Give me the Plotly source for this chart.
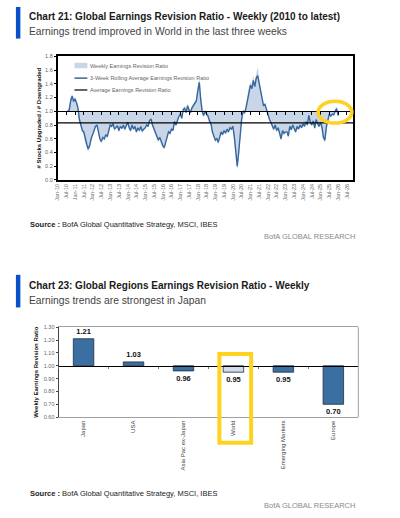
import pandas as pd
import plotly.graph_objects as go

# Chart 21 - global earnings revision ratio (Aug-2010 .. Jan-2026)
START = "2010-08-01"
WEEKLY = [
    1.01, 1.05, 1.20, 1.24, 1.16,                                            # 2010
    1.20, 1.10, 1.02, 0.85, 0.78, 0.70, 0.66, 0.55, 0.48, 0.42, 0.49, 0.62,  # 2011
    0.70, 0.74, 0.80, 0.81, 0.68, 0.58, 0.54, 0.63, 0.58, 0.68, 0.61, 0.74,  # 2012
    0.82, 0.77, 0.84, 0.72, 0.77, 0.81, 0.70, 0.79, 0.74, 0.82, 0.72, 0.80,  # 2013
    0.86, 0.74, 0.70, 0.82, 0.73, 0.80, 0.68, 0.77, 0.70, 0.80, 0.69, 0.75,  # 2014
    0.77, 0.82, 0.77, 0.88, 0.91, 0.79, 0.72, 0.68, 0.61, 0.56, 0.63, 0.53,  # 2015
    0.48, 0.45, 0.56, 0.63, 0.72, 0.67, 0.76, 0.71, 0.87, 0.79, 0.90, 0.94,  # 2016
    0.98, 0.89, 1.04, 1.07, 0.97, 1.10, 1.03, 0.97, 1.07, 1.10, 1.14, 1.18,  # 2017
    1.34, 1.45, 1.20, 0.99, 0.92, 1.02, 0.95, 0.92, 0.84, 0.80, 0.68, 0.60,  # 2018
    0.56, 0.61, 0.53, 0.63, 0.72, 0.65, 0.74, 0.67, 0.76, 0.69, 0.78, 0.73,  # 2019
    0.80, 0.60, 0.34, 0.17, 0.38, 0.68, 0.90, 1.02, 0.97, 1.07, 1.22, 1.34,  # 2020
    1.42, 1.35, 1.50, 1.38, 1.52, 1.62, 1.44, 1.34, 1.20, 1.06, 1.12, 1.01,  # 2021
    0.95, 0.86, 0.83, 0.76, 0.72, 0.82, 0.70, 0.77, 0.64, 0.58, 0.74, 0.66,  # 2022
    0.72, 0.72, 0.62, 0.80, 0.72, 0.82, 0.74, 0.69, 0.80, 0.73, 0.82, 0.75,  # 2023
    0.84, 0.77, 0.87, 0.79, 0.96, 0.83, 0.79, 0.88, 0.74, 0.90, 0.81, 0.77,  # 2024
    0.86, 0.74, 0.60, 0.55, 0.78, 0.90, 0.98, 0.92, 0.97, 0.94, 1.02, 1.06,  # 2025
    0.93,                                                                    # 2026
]
ROLLING_3W = [
    1.00, 1.02, 1.15, 1.22, 1.14,                                            # 2010
    1.18, 1.12, 1.05, 0.88, 0.80, 0.72, 0.70, 0.58, 0.52, 0.45, 0.50, 0.60,  # 2011
    0.68, 0.72, 0.78, 0.80, 0.70, 0.60, 0.56, 0.62, 0.60, 0.66, 0.63, 0.72,  # 2012
    0.80, 0.78, 0.82, 0.74, 0.76, 0.79, 0.72, 0.78, 0.75, 0.80, 0.74, 0.79,  # 2013
    0.84, 0.76, 0.72, 0.80, 0.74, 0.78, 0.70, 0.76, 0.72, 0.78, 0.71, 0.74,  # 2014
    0.76, 0.80, 0.78, 0.86, 0.89, 0.80, 0.74, 0.70, 0.63, 0.58, 0.62, 0.55,  # 2015
    0.50, 0.47, 0.55, 0.62, 0.70, 0.68, 0.74, 0.72, 0.85, 0.80, 0.88, 0.92,  # 2016
    0.96, 0.90, 1.02, 1.05, 0.98, 1.08, 1.02, 0.98, 1.05, 1.08, 1.12, 1.15,  # 2017
    1.30, 1.42, 1.18, 1.00, 0.94, 1.00, 0.96, 0.93, 0.86, 0.82, 0.70, 0.62,  # 2018
    0.58, 0.60, 0.55, 0.62, 0.70, 0.66, 0.72, 0.68, 0.74, 0.70, 0.76, 0.74,  # 2019
    0.78, 0.62, 0.38, 0.20, 0.40, 0.66, 0.88, 1.00, 0.98, 1.05, 1.18, 1.30,  # 2020
    1.38, 1.33, 1.45, 1.36, 1.48, 1.52, 1.40, 1.32, 1.18, 1.08, 1.10, 1.02,  # 2021
    0.96, 0.88, 0.84, 0.78, 0.74, 0.80, 0.72, 0.76, 0.66, 0.60, 0.72, 0.68,  # 2022
    0.70, 0.70, 0.64, 0.78, 0.73, 0.80, 0.75, 0.70, 0.78, 0.74, 0.80, 0.76,  # 2023
    0.82, 0.78, 0.85, 0.80, 0.94, 0.84, 0.80, 0.86, 0.76, 0.88, 0.82, 0.78,  # 2024
    0.84, 0.76, 0.62, 0.58, 0.77, 0.89, 0.96, 0.93, 0.96, 0.95, 1.00, 1.04,  # 2025
    0.94,                                                                    # 2026
]
AVG_RATIO = 0.83
X_RANGE = ["2010-01-01", "2026-11-15"]

# Chart 23 - regions
REGIONS = ["Japan", "USA", "Asia Pac ex-Japan", "World", "Emerging Markets", "Europe"]
REGION_RATIO = [1.21, 1.03, 0.96, 0.95, 0.95, 0.70]
HIGHLIGHT = "World"

W, H = 400, 518
FONT = "Liberation Sans Narrow, Arial Narrow, Liberation Sans, Arial, sans-serif"
BLUE = "#35679E"
YELLOW = "#FFD21F"


def px(x):
    return x / W


def py(y):
    return 1 - y / H


dates = pd.date_range(START, periods=len(WEEKLY), freq="MS")

# plot areas (pixels)
top_x, top_y = (55, 353), (179, 54)
bot_x, bot_y = (56, 358), (419, 328)
top_rng, bot_rng = (0, 1.8), (0.6, 1.3)
# where the 1.0 crossing line sits in paper coords
pos_top = py(top_y[0]) + (py(top_y[1]) - py(top_y[0])) * (1.0 - top_rng[0]) / (top_rng[1] - top_rng[0])
pos_bot = py(bot_y[0]) + (py(bot_y[1]) - py(bot_y[0])) * (1.0 - bot_rng[0]) / (bot_rng[1] - bot_rng[0])

fig = go.Figure()

# baseline at 1.0 so the weekly area is filled to it
fig.add_trace(go.Scatter(x=dates, y=[1.0] * len(dates), mode="lines", line=dict(width=0),
                         showlegend=False, hoverinfo="skip"))
fig.add_trace(go.Scatter(x=dates, y=WEEKLY, mode="lines", fill="tonexty", fillcolor="#C9D6E7",
                         line=dict(color="#BACADF", width=0.5), name="Weekly Earnings Revision Ratio",
                         showlegend=False))
fig.add_trace(go.Scatter(x=dates, y=ROLLING_3W, mode="lines", line=dict(color=BLUE, width=1.4),
                         name="3-Week Rolling Average Earnings Revision Ratio", showlegend=False))
fig.add_trace(go.Scatter(x=X_RANGE, y=[AVG_RATIO, AVG_RATIO], mode="lines", xaxis="x2",
                         line=dict(color="black", width=1.2), name="Average Earnings Revision Ratio",
                         showlegend=False))

bar_colors = ["#D0DCEA" if r == HIGHLIGHT else "#3B6EA1" for r in REGIONS]
fig.add_trace(go.Bar(x=REGIONS, y=[v - 1 for v in REGION_RATIO], base=1, width=0.41,
                     marker=dict(color=bar_colors, line=dict(color="#1E2D40", width=0.8)),
                     text=["<b>%.2f</b>" % v for v in REGION_RATIO], textposition="outside",
                     textfont=dict(size=7.5, color="#111", family=FONT), cliponaxis=False,
                     xaxis="x3", yaxis="y3", showlegend=False))
# invisible points so the crossing axis at 1.00 gets its ticks
fig.add_trace(go.Scatter(x=REGIONS, y=[1.0] * len(REGIONS), mode="markers", marker=dict(opacity=0),
                         xaxis="x4", yaxis="y3", showlegend=False, hoverinfo="skip"))

tick_font = dict(size=5.5, color="#666", family=FONT)

fig.update_layout(
    width=W, height=H,
    margin=dict(l=0, r=0, t=0, b=0),
    paper_bgcolor="white", plot_bgcolor="white",
    font=dict(family=FONT, color="#333"),
    showlegend=False,
    xaxis=dict(domain=[px(top_x[0]), px(top_x[1])], anchor="y", type="date", range=X_RANGE,
               tick0="2010-01-01", dtick="M6", tickformat="%b-%y", tickangle=-90, tickfont=tick_font,
               ticks="", showline=True, mirror=True, linecolor="black", linewidth=1.5,
               showgrid=False, zeroline=False),
    yaxis=dict(domain=[py(top_y[0]), py(top_y[1])], anchor="x", range=list(top_rng), dtick=0.2,
               tickformat=".1f", ticks="outside", ticklen=2, tickcolor="black", tickfont=tick_font,
               showline=True, mirror=True, linecolor="black", linewidth=1.5, showgrid=False, zeroline=False,
               title=dict(text="<b># Stocks Upgraded / # Downgraded</b>", standoff=3,
                          font=dict(size=6, color="#111", family=FONT))),
    xaxis2=dict(overlaying="x", anchor="free", position=pos_top, type="date", range=X_RANGE,
                tick0="2010-01-01", dtick="M6", showticklabels=False, ticks="outside", ticklen=2.5,
                tickcolor="black", showline=True, linecolor="black", linewidth=1.2,
                showgrid=False, zeroline=False),
    xaxis3=dict(domain=[px(bot_x[0]), px(bot_x[1])], anchor="y3", type="category",
                categoryorder="array", categoryarray=REGIONS, range=[-0.5, len(REGIONS) - 0.5],
                tickangle=-90, tickfont=dict(size=6, color="#444", family=FONT), ticks="",
                showline=True, mirror=True, linecolor="#A0A0A0", linewidth=1, showgrid=False),
    yaxis3=dict(domain=[py(bot_y[0]), py(bot_y[1])], anchor="x3", range=list(bot_rng), dtick=0.1,
                tickformat=".2f", ticks="outside", ticklen=2, tickcolor="#444", tickfont=tick_font,
                showline=True, linecolor="#444", linewidth=1, showgrid=False, zeroline=False,
                title=dict(text="<b>Weekly Earnings Revision Ratio</b>", standoff=4,
                           font=dict(size=6, color="#111", family=FONT))),
    xaxis4=dict(overlaying="x3", anchor="free", position=pos_bot, type="category",
                categoryorder="array", categoryarray=REGIONS, range=[-0.5, len(REGIONS) - 0.5],
                tickson="boundaries", ticks="outside", ticklen=2, tickcolor="#777",
                showticklabels=False, showline=True, linecolor="black", linewidth=1, showgrid=False),
)

shapes = [
    # blue accents beside the titles
    dict(type="rect", xref="paper", yref="paper", x0=px(13), x1=px(17.5), y0=py(4), y1=py(36),
         fillcolor="#0A50C8", line=dict(width=0)),
    dict(type="rect", xref="paper", yref="paper", x0=px(13), x1=px(17.5), y0=py(275), y1=py(308),
         fillcolor="#0A50C8", line=dict(width=0)),
    # right border of the region chart
    dict(type="line", xref="x3 domain", yref="y3 domain", x0=1, x1=1, y0=0, y1=1,
         line=dict(color="#A0A0A0", width=1)),
    # legend keys of chart 21
    dict(type="rect", xref="paper", yref="paper", x0=px(72), x1=px(85), y0=py(60.5), y1=py(66),
         fillcolor="#C9D6E7", line=dict(width=0)),
    dict(type="line", xref="paper", yref="paper", x0=px(72), x1=px(85), y0=py(76), y1=py(76),
         line=dict(color=BLUE, width=1.5)),
    dict(type="line", xref="paper", yref="paper", x0=px(72), x1=px(85), y0=py(88), y1=py(88),
         line=dict(color="#333", width=1.5)),
    # yellow highlights
    dict(type="circle", xref="paper", yref="paper", x0=px(317.5), x1=px(351.5), y0=py(99.5), y1=py(121.5),
         line=dict(color=YELLOW, width=3.5)),
    dict(type="rect", xref="paper", yref="paper", x0=px(218), x1=px(250), y0=py(355), y1=py(445),
         line=dict(color=YELLOW, width=4)),
]

annotations = []


def note(text, x, y, size, color, anchor="left"):
    annotations.append(dict(text=text, x=px(x), y=py(y), xref="paper", yref="paper", xanchor=anchor,
                            yanchor="middle", showarrow=False, font=dict(size=size, color=color, family=FONT)))


note("<b>Chart 21: Global Earnings Revision Ratio - Weekly (2010 to latest)</b>", 24, 14, 10.0, "#1A1A1A")
note("Earnings trend improved in World in the last three weeks", 24, 29, 10.3, "#444")
note("Weekly Earnings Revision Ratio", 86, 63.3, 5.5, "#666")
note("3-Week Rolling Average Earnings Revision Ratio", 86, 76, 5.5, "#666")
note("Average Earnings Revision Ratio", 86, 88, 5.5, "#666")
note("<b>Source :</b> BofA Global Quantitative Strategy, MSCI, IBES", 25, 224, 7.5, "#222")
note("BofA GLOBAL RESEARCH", 357, 236, 7.5, "#8A8A8A", anchor="right")

note("<b>Chart 23: Global Regions Earnings Revision Ratio - Weekly</b>", 24, 286, 10.0, "#1A1A1A")
note("Earnings trends are strongest in Japan", 24, 301, 10.3, "#444")
note("<b>Source :</b> BofA Global Quantitative Strategy, MSCI, IBES", 25, 496, 7.5, "#222")
note("BofA GLOBAL RESEARCH", 357, 508, 7.5, "#8A8A8A", anchor="right")

fig.update_layout(shapes=shapes, annotations=annotations)

# the page's default body margin would push the whole figure 8px right and down
fig.write_html("out.html", config={"displayModeBar": False},
               post_script="document.body.style.margin = '0';")
